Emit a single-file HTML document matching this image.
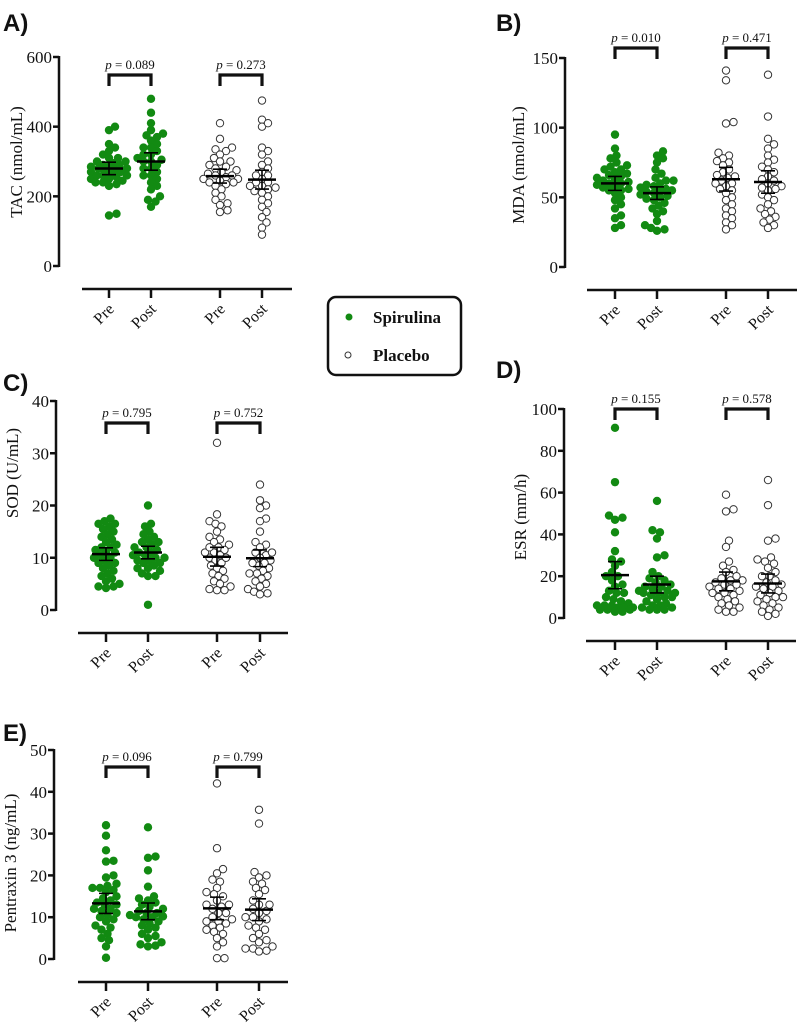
<!DOCTYPE html>
<html><head><meta charset="utf-8"><style>
body{margin:0;background:#fff;}
svg{display:block;}
text{font-family:"Liberation Serif",serif;fill:#111;}
.lbl{font-family:"Liberation Sans",sans-serif;font-weight:bold;font-size:24px;}
</style></head><body>
<svg id="fig" width="798" height="1027" viewBox="0 0 798 1027">
<text class="lbl" x="3" y="31">A)</text>
<text class="lbl" x="496" y="31">B)</text>
<text class="lbl" x="3" y="391">C)</text>
<text class="lbl" x="496" y="378">D)</text>
<text class="lbl" x="3" y="741">E)</text>
<g>
<rect x="328" y="297" width="133" height="78" rx="8" fill="#fff" stroke="#111" stroke-width="2.5"/>
<circle cx="349" cy="317" r="3.5" fill="#128a12"/>
<text x="373" y="323" font-weight="bold" font-size="17">Spirulina</text>
<circle cx="348" cy="355" r="3" fill="#fff" stroke="#333" stroke-width="1"/>
<text x="373" y="361" font-weight="bold" font-size="17">Placebo</text>
</g>
</svg>
<script>
const groups=["Pre","Post","Pre","Post"];
const tacValues=[
[400,390,350,340,330,320,310,300,300,290,290,285,280,280,275,270,270,265,260,260,255,250,250,245,240,235,230,150,145,310,295,285,270,260,240],
[480,440,410,390,380,375,370,360,350,340,340,330,320,310,300,300,290,280,270,260,250,240,230,220,200,190,185,170,320,305,280,260],
[410,365,340,335,330,320,310,300,290,280,275,270,265,260,255,250,245,240,235,230,220,210,200,190,180,175,160,155,300,285,260,250,240],
[475,420,400,410,340,330,320,300,290,280,270,260,250,240,230,225,220,215,210,200,190,180,170,155,140,125,110,90,260,240,230]];
const tacMean=[280,300,258,248];
const tacSem=[18,25,20,27];
const mdaValues=[
[95,85,80,78,75,73,72,70,68,67,65,64,63,62,61,60,59,58,57,56,55,53,50,48,45,42,37,35,30,28,66,60,55,70],
[83,80,78,75,70,67,64,62,60,59,58,57,56,55,54,53,52,51,50,49,48,46,44,42,40,38,33,30,28,27,26,62,55],
[141,134,104,103,82,80,78,76,75,73,70,68,66,64,62,60,58,56,55,53,50,48,45,42,40,37,35,32,30,27,65,60],
[138,108,92,88,85,80,77,75,72,70,68,65,63,60,58,56,55,52,50,48,45,42,40,38,36,34,32,30,28,62,57]];
const mdaMean=[60,53,63,61];
const mdaSem=[5,4.5,8.5,8];
const sodValues=[
[17.5,17,16.5,16,15.5,15,14.5,14,13.5,13,12.5,12,11.5,11,10.5,10,9.5,9,8.5,8,7.5,7,6.5,6,5.5,5,4.5,4.2,4.5,12,11,10,9,16.5],
[20,16.5,16,15,14.5,14,13.5,13,12.5,12,11.5,11,10.5,10,10,9.5,9,9,8.5,8,8,7.5,7,6.5,6.5,1,11,12,13,10.5,9.5],
[32,18.3,17,16.5,16,15,14,13.5,13,12.5,12,11.5,11,10.5,10,9.5,9,8.5,8,7.5,7,6.5,6,5.5,5,4.5,4,3.8,3.8,10,11,12],
[24,21,20,19.5,17.5,17,15,13,12.5,12,11,10.5,10,9.5,9,8.5,8,7.5,7,6.5,6,5.5,5,4.5,4,3.5,3.2,3,11,9,7]];
const sodMean=[10.7,11,10.2,9.9];
const sodSem=[1.2,1.2,1.8,1.6];
const esrValues=[
[91,65,49,48,47,41,32,28,27,25,22,20,18,16,15,13,12,10,9,8,7,6,6,5,5,5,4,4,4,3,3,20,12,6],
[56,42,41,38,30,29,22,20,19,18,17,16,15,14,13,12,12,11,10,10,9,8,7,6,6,5,5,4,4,4,15,13,12],
[59,52,51,37,34,27,25,23,22,20,19,18,17,16,15,14,13,12,11,10,9,8,7,6,5,4,3,3,18,16,14,12],
[66,54,38,37,29,28,27,26,24,22,20,18,17,16,15,14,13,12,11,10,9,8,7,6,5,4,3,2,1,20,15,10]];
const esrMean=[20.5,16,17.5,16.5];
const esrSem=[6.5,4,4.5,4.5];
const ptxValues=[
[32,29.5,26,23.5,23.3,20,19.5,18,17.5,17,16.5,16,15,14.5,14,13.5,13,12,11.5,11,10,9.5,9,8,7.5,7,6,5,4.5,3,0.3,13,12,10.5,17],
[31.5,24.5,24.2,21.2,17.3,15,14.5,14,13.5,13,12.5,12,11.5,11,10.5,10,10,9.5,9,8.5,8,7.5,7,6,5.5,5,4,3.5,3.2,3,11,10.2],
[42,26.5,21.5,20.5,19,18.5,17,16,15.5,15,14,13,12.5,12,11,10,9.5,9,8.5,8,7.5,7,6.5,6,5,4,3,0.2,0.2,13,11,9],
[35.7,32.4,20.8,20,19.5,18.5,18,17,16.5,15.5,14,13,12,11.5,11,10,9.5,9,8,7.5,7,6,5,4.5,4,3,2.5,2.5,2,1.8,13,10]];
const ptxMean=[13.3,11.4,12.1,11.8];
const ptxSem=[2.4,2,2.7,2.6];
const pLabels=[["0.089","0.273"],["0.010","0.471"],["0.795","0.752"],["0.155","0.578"],["0.096","0.799"]];
const yTitles=["TAC (nmol/mL)","MDA (nmol/mL)","SOD (U/mL)","ESR (mm/h)","Pentraxin 3 (ng/mL)"];
const yMax=[600,150,40,100,50];
const yStep=[200,50,10,20,10];

const layouts=[
{id:"a",ax:59,top:57,bot:266,xy:289,xs:82,xe:292,cats:[109,151,220,262],br:75,tx:16,ty:162},
{id:"b",ax:565,top:58,bot:267,xy:290,xs:587,xe:797,cats:[615,657,726,768],br:48,tx:518,ty:165},
{id:"c",ax:56,top:401,bot:610,xy:633,xs:78,xe:288,cats:[106,148,217,260],br:423,tx:12,ty:473},
{id:"d",ax:564,top:409,bot:618,xy:641,xs:586,xe:796,cats:[615,657,726,768],br:409,tx:520,ty:517},
{id:"e",ax:54,top:750,bot:959,xy:982,xs:78,xe:288,cats:[106,148,217,259],br:767,tx:10,ty:863}];
const allValues=[tacValues,mdaValues,sodValues,esrValues,ptxValues];
const allMeans=[tacMean,mdaMean,sodMean,esrMean,ptxMean];
const allSems=[tacSem,mdaSem,sodSem,esrSem,ptxSem];

const NS="http://www.w3.org/2000/svg";
const svg=document.getElementById('fig');
function mk(tag,attrs,parent){const e=document.createElementNS(NS,tag);for(const k in attrs)e.setAttribute(k,attrs[k]);(parent||svg).appendChild(e);return e;}
function swarm(ys){const D=6.5,MAX=18;const order=ys.map((y,i)=>[y,i]).sort((a,b)=>b[0]-a[0]);const placed=[];const xs=new Array(ys.length);
 for(const [y,i] of order){let best=0,bestCost=1e9;
  for(let k=0;k<=24;k++){const cand=(k%2?1:-1)*Math.ceil(k/2)*1.5;if(Math.abs(cand)>MAX)continue;let cost=0;
   for(const p of placed){const dx=p[0]-cand,dy=p[1]-y;const d=Math.sqrt(dx*dx+dy*dy);if(d<D)cost+=(D-d);}
   cost+=Math.abs(cand)*0.02;
   if(cost<bestCost-1e-6){bestCost=cost;best=cand;}
   if(cost<Math.abs(cand)*0.02+1e-6)break;}
  placed.push([best,y]);xs[i]=best;}return xs;}

layouts.forEach((L,pi)=>{
 const g=mk('g',{});
 
 
 const yScale=v=>L.bot-(v/yMax[pi])*(L.bot-L.top);
 const ya=mk('line',{x1:L.ax,y1:L.top-1,x2:L.ax,y2:L.bot+1,stroke:'#111','stroke-width':2.5},g);
 
 
 for(let v=0;v<=yMax[pi]+1e-9;v+=yStep[pi]){
  const y=yScale(v);
  const t=mk('line',{x1:L.ax-6,y1:y,x2:L.ax,y2:y,stroke:'#111','stroke-width':2.5},g);
  
  
  const tl=mk('text',{x:L.ax-7,y:y+6,'text-anchor':'end','font-size':17},g);
  
  
  tl.textContent=v;
 }
 const yt=mk('text',{x:L.tx,y:L.ty,'text-anchor':'middle','font-size':17,transform:`rotate(-90 ${L.tx} ${L.ty})`,dy:6},g);
 
 
 yt.textContent=yTitles[pi];
 const xa=mk('line',{x1:L.xs,y1:L.xy,x2:L.xe,y2:L.xy,stroke:'#111','stroke-width':2.5},g);
 
 
 L.cats.forEach((cx,ci)=>{
  const t=mk('line',{x1:cx,y1:L.xy,x2:cx,y2:L.xy+9,stroke:'#111','stroke-width':2.5},g);
  
  
  const tx=cx+6,ty=L.xy+21;
  const tl=mk('text',{x:tx,y:ty,'text-anchor':'end','font-size':16,transform:`rotate(-45 ${tx} ${ty})`},g);
  
  
  tl.textContent=groups[ci];
  const vals=allValues[pi][ci];
  const ys=vals.map(yScale);
  const offs=swarm(ys);
  const placebo=ci>=2;
  vals.forEach((v,k)=>{
   const c=mk('circle',{cx:cx+offs[k],cy:yScale(v),r:placebo?3.7:4.2,fill:placebo?'#fff':'#128a12',stroke:placebo?'#333':'none','stroke-width':1},g);
   
   
  });
  const m=allMeans[pi][ci],s=allSems[pi][ci];
  const my=yScale(m),hi=yScale(m+s),lo=yScale(m-s);
  const ml=mk('line',{x1:cx-14,y1:my,x2:cx+14,y2:my,stroke:'#000','stroke-width':2.5},g);
  
  
  const el=mk('path',{d:`M${cx} ${hi}V${lo}M${cx-7} ${hi}H${cx+7}M${cx-7} ${lo}H${cx+7}`,stroke:'#000','stroke-width':1.6,fill:'none'},g);
  
  
 });
 [0,1].forEach(bi=>{
  const x1=L.cats[bi*2],x2=L.cats[bi*2+1];
  const b=mk('path',{d:`M${x1} ${L.br+11}V${L.br}H${x2}V${L.br+11}`,stroke:'#111','stroke-width':3.2,fill:'none'},g);
  
  
  const pt=mk('text',{x:(x1+x2)/2,y:L.br-6,'text-anchor':'middle','font-size':13},g);
  
  
  const ts=mk('tspan',{'font-style':'italic'},pt);ts.textContent='p';
  const ts2=mk('tspan',{},pt);ts2.textContent=' = '+pLabels[pi][bi];
 });
});
</script>
</body></html>
